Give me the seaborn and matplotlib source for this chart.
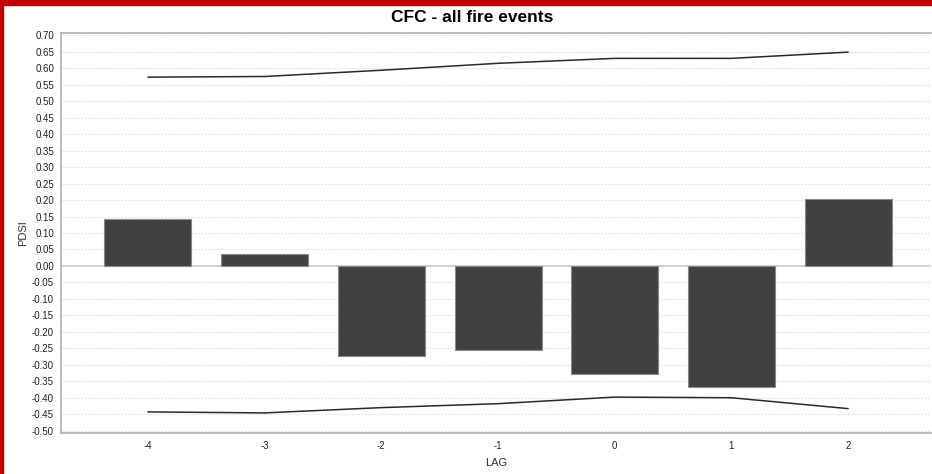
import matplotlib
matplotlib.use("Agg")
import matplotlib.pyplot as plt
import seaborn as sns
import pandas as pd
from matplotlib.patches import Rectangle

# Lag (years relative to fire event) and mean PDSI
lags = [-4, -3, -2, -1, 0, 1, 2]
pdsi = [0.142, 0.037, -0.273, -0.255, -0.328, -0.367, 0.204]
# Confidence bounds
upper = [0.573, 0.575, 0.594, 0.615, 0.630, 0.630, 0.649]
lower = [-0.443, -0.446, -0.430, -0.418, -0.398, -0.400, -0.433]

yticks = [round(-0.50 + 0.05 * i, 2) for i in range(25)]

df = pd.DataFrame({"LAG": lags, "PDSI": pdsi, "upper": upper, "lower": lower})

sns.set_style("white")
plt.rcParams["font.family"] = ["Liberation Sans", "DejaVu Sans"]

fig = plt.figure(figsize=(9.32, 4.74), dpi=100)
ax = fig.add_axes([61 / 932, 1 - 433 / 474, 870 / 932, 400 / 474])

# frame border
fig.patches.append(Rectangle((0, 1 - 5 / 474), 1, 5 / 474, transform=fig.transFigure,
                             color="#c00000", zorder=10))
fig.patches.append(Rectangle((0, 0), 2.5 / 932, 1, transform=fig.transFigure,
                             color="#c00000", zorder=10))

for t in yticks:
    if abs(t) > 1e-9:
        ax.axhline(t, color="#dedede", lw=0.8, ls=(0, (1.5, 1.5)), zorder=0)
ax.axhline(0, color="#c8c8c8", lw=1.2, zorder=1)

sns.barplot(data=df, x="LAG", y="PDSI", native_scale=True, width=0.745,
            color="#404040", saturation=1, edgecolor="#8a8a8a", linewidth=0.8,
            ax=ax, zorder=2)
sns.lineplot(data=df, x="LAG", y="upper", color="#2a2a2a", lw=1.1, ax=ax, zorder=3)
sns.lineplot(data=df, x="LAG", y="lower", color="#2a2a2a", lw=1.1, ax=ax, zorder=3)

ax.set_xlim(-4.745, 2.71)
ax.set_ylim(-0.507, 0.707)
ax.set_yticks(yticks)
ax.set_yticklabels([f"{t:.2f}" for t in yticks], fontsize=7)
ax.set_xticks(lags)
ax.set_xticklabels([str(v) for v in lags], fontsize=7)
ax.tick_params(axis="both", length=2, width=0.8, color="#999999", pad=3, labelcolor="#222222")
ax.tick_params(axis="x", pad=4)

for side in ("left", "bottom", "top"):
    ax.spines[side].set_color("#b0b0b0")
    ax.spines[side].set_linewidth(1.2)
ax.spines["right"].set_visible(False)

ax.set_xlabel("LAG", fontsize=8, color="#333333", labelpad=5)
ax.set_ylabel("PDSI", fontsize=8, color="#333333", labelpad=3)
fig.text(472 / 932, 1 - 18 / 474, "CFC - all fire events", ha="center", va="center",
         fontsize=12.5, fontweight="bold", color="#000000")

fig.savefig("out.png", dpi=100)
